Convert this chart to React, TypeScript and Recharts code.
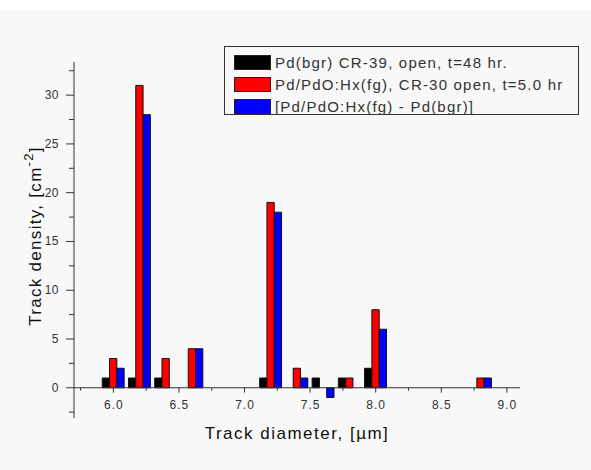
import { ComposedChart, Bar, XAxis, YAxis, ReferenceLine, Legend } from "recharts";

// track diameter groups (µm) and track densities
const diameters = [6.0, 6.2, 6.4, 6.6, 7.2, 7.4, 7.6, 7.8, 8.0, 8.8];
const bgrValues = [1, 1, 1, 0, 1, 0, 1, 1, 2, 0];
const fgValues = [3, 31, 3, 4, 19, 2, 0, 1, 8, 1];
const diffValues = [2, 28, 0, 4, 18, 1, -1, 0, 6, 1];

const seriesNames = [
  "Pd(bgr) CR-39, open, t=48 hr.",
  "Pd/PdO:Hx(fg), CR-30 open, t=5.0 hr",
  "[Pd/PdO:Hx(fg) - Pd(bgr)]",
];

const xTicks = [6.0, 6.5, 7.0, 7.5, 8.0, 8.5, 9.0];
const xMinorTicks = [5.75, 6.25, 6.75, 7.25, 7.75, 8.25, 8.75];
const yTicks = [-2.5, 0, 2.5, 5, 7.5, 10, 12.5, 15, 17.5, 20, 22.5, 25, 27.5, 30, 32.5];

const data = diameters.map((d, i) => ({
  d,
  bgr: bgrValues[i],
  fg: fgValues[i],
  diff: diffValues[i],
}));

const FONT = "'Liberation Sans', Arial, sans-serif";
const AXIS = "#333";

function YTick({ x, y, payload }: any) {
  const major = payload.value % 5 === 0;
  return (
    <g>
      <line x1={x - (major ? 8 : 5)} x2={x} y1={y} y2={y} stroke={AXIS} />
      {major && (
        <text x={x - 15} y={y} dy={4} textAnchor="end" fontSize={12} fill="#333" fontFamily={FONT} letterSpacing={0.5}>
          {payload.value}
        </text>
      )}
    </g>
  );
}

function XTick({ x, y, payload }: any) {
  return (
    <text x={x + 0.5} y={y} dy={-9} textAnchor="middle" fontSize={12} fill="#333" fontFamily={FONT} letterSpacing={1}>
      {payload.value.toFixed(1)}
    </text>
  );
}

function YLabel({ viewBox }: any) {
  const cx = viewBox.x + 41;
  const cy = viewBox.y + viewBox.height / 2 - 4;
  return (
    <text x={cx} y={cy} transform={`rotate(-90, ${cx}, ${cy})`} textAnchor="middle" fontSize={17} fill="#111" fontFamily={FONT} letterSpacing={1.3}>
      Track density, [cm
      <tspan dy={-8} fontSize={13}>-2</tspan>
      <tspan dy={8}>]</tspan>
    </text>
  );
}

function XLabel({ viewBox }: any) {
  return (
    <text x={viewBox.x + viewBox.width / 2} y={viewBox.y + 21} textAnchor="middle" fontSize={17} fill="#111" fontFamily={FONT} letterSpacing={1.5}>
      Track diameter, [µm]
    </text>
  );
}

function LegendBox({ payload }: any) {
  return (
    <div
      style={{
        border: "1px solid #333",
        background: "#f8f8f8",
        width: 355,
        height: 69,
        boxSizing: "border-box",
        padding: "5px 0 0 9px",
        fontFamily: FONT,
        fontSize: 15,
        letterSpacing: 1.2,
        color: "#333",
      }}
    >
      {(payload || []).map((p: any) => (
        <div key={p.value} style={{ display: "flex", alignItems: "center", height: 21.7 }}>
          <span style={{ width: 37, height: 15, background: p.color, border: "1px solid #222", boxSizing: "border-box", marginRight: 4 }} />
          <span style={{ whiteSpace: "nowrap" }}>{p.value}</span>
        </div>
      ))}
    </div>
  );
}

export default function App() {
  return (
    <div style={{ position: "absolute", left: 0, top: 0, width: 591, height: 470, background: "#f8f8f8", borderTop: "10px solid #fff", boxSizing: "border-box" }}>
      <div style={{ position: "absolute", left: 0, top: -10 }}>
        <ComposedChart width={591} height={470} data={data} barGap={0} margin={{ top: 62, right: 71, left: 0, bottom: 0 }}>
          <XAxis
            dataKey="d"
            type="number"
            domain={[5.7, 9.1]}
            ticks={xTicks}
            interval={0}
            height={52}
            axisLine={false}
            tickLine={false}
            tickSize={0}
            tickMargin={0}
            tick={<XTick />}
            label={<XLabel />}
          />
          <YAxis
            type="number"
            domain={[-3.1, 33.4]}
            ticks={yTicks}
            interval={0}
            width={74}
            axisLine={{ stroke: AXIS }}
            tickLine={false}
            tickSize={0}
            tickMargin={0}
            tick={<YTick />}
            label={<YLabel />}
          />
          <ReferenceLine y={0} stroke={AXIS} />
          {xTicks.map((t) => (
            <ReferenceLine key={"M" + t} segment={[{ x: t, y: 0 }, { x: t, y: -0.5 }]} stroke={AXIS} ifOverflow="visible" />
          ))}
          {xMinorTicks.map((t) => (
            <ReferenceLine key={"m" + t} segment={[{ x: t, y: 0 }, { x: t, y: -0.3 }]} stroke={AXIS} ifOverflow="visible" />
          ))}
          <Bar dataKey="bgr" name={seriesNames[0]} fill="#000000" stroke="#111" barSize={7.3} isAnimationActive={false} />
          <Bar dataKey="fg" name={seriesNames[1]} fill="#ff0000" stroke="#111" barSize={7.3} isAnimationActive={false} />
          <Bar dataKey="diff" name={seriesNames[2]} fill="#0000ff" stroke="#111" barSize={7.3} isAnimationActive={false} />
          <Legend
            layout="vertical"
            align="center"
            verticalAlign="middle"
            wrapperStyle={{ left: 224, top: 46, width: 357, height: 71 }}
            content={<LegendBox />}
          />
        </ComposedChart>
      </div>
    </div>
  );
}
